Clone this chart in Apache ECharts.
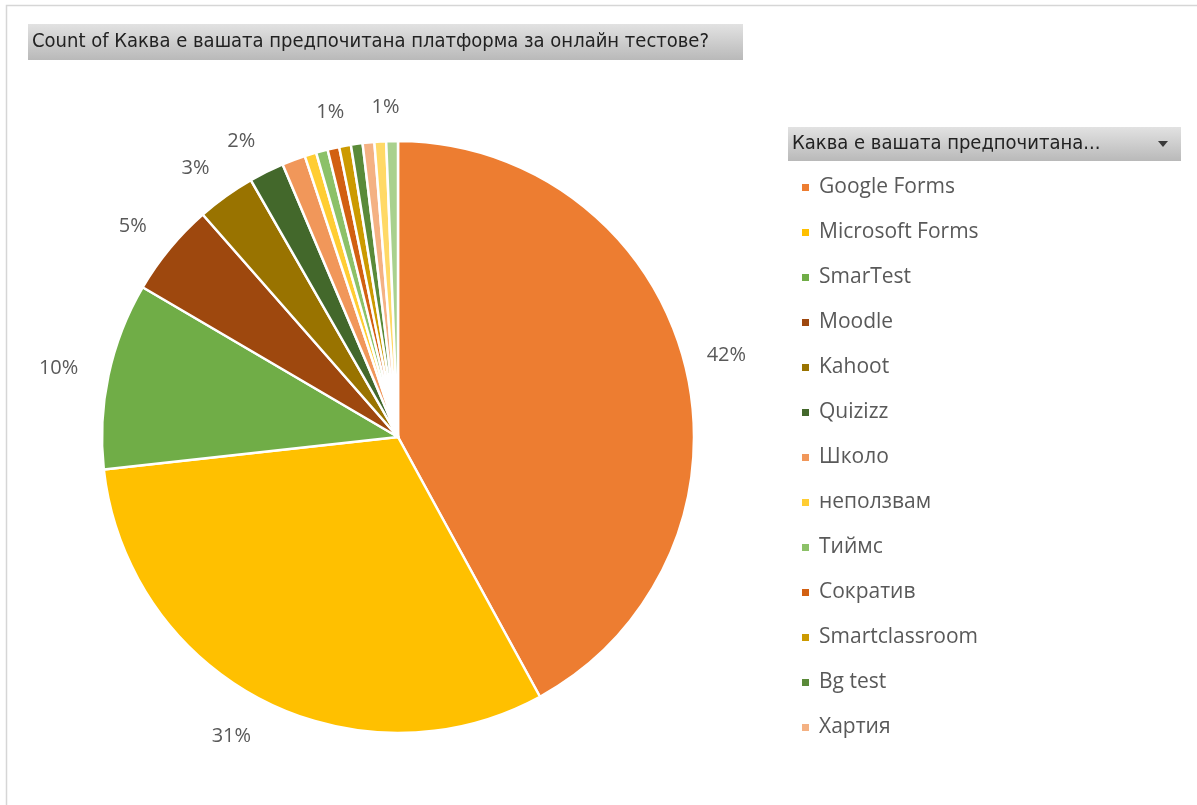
<!DOCTYPE html>
<html>
<head>
<meta charset="utf-8">
<script src="https://cdn.jsdelivr.net/npm/echarts@6/dist/echarts.min.js"></script>
<style>
html,body{margin:0;padding:0;background:#fff;}
#chart{width:1197px;height:805px;}
</style>
</head>
<body>
<div id="chart"></div>
<script>
// ---- data ----
const titleText = 'Count of Каква е вашата предпочитана платформа за онлайн тестове?';
const legendTitle = 'Каква е вашата предпочитана...';
const categories = ['Google Forms','Microsoft Forms','SmarTest','Moodle','Kahoot','Quizizz','Школо','неползвам','Тиймс','Сократив','Smartclassroom','Bg test','Хартия','',''];
const counts = [66,49,16,8,5,3,2,1,1,1,1,1,1,1,1];
const colors = ['#ED7D31','#FFC000','#70AD47','#9E480E','#997300','#43682B','#F1975A','#FFCD33','#8CC168','#D26012','#CC9A00','#5A8A39','#F4B183','#FFD966','#A9D18E'];
const labelShown = [0,1,2,3,4,5,10,14];
const legendNames = categories.slice(0,13);

const chart = echarts.init(document.getElementById('chart'));
const grad = () => new echarts.graphic.LinearGradient(0,0,0,1,[{offset:0,color:'#e2e2e2'},{offset:1,color:'#b9b9b9'}]);
const titleFont = '"DejaVu Sans Condensed", "DejaVu Sans", sans-serif';
const bodyFont = '"Open Sans", "Noto Sans", sans-serif';
const LABEL_GAP = 27;

function placeLabel(params) {
  const data = chart.getModel().getSeriesByIndex(0).getData();
  const lay = data.getItemLayout(params.dataIndex);
  if (!lay) return {};
  const a = (lay.startAngle + lay.endAngle) / 2;
  const ux = Math.cos(a), uy = Math.sin(a);
  const w = params.labelRect.width, h = params.labelRect.height;
  const sx = Math.sign(ux) * Math.sqrt(Math.abs(ux));
  const sy = Math.sign(uy) * Math.sqrt(Math.abs(uy));
  return {
    x: lay.cx + ux * (lay.r + LABEL_GAP) + sx * w / 2 - 4,
    y: lay.cy + uy * (lay.r + LABEL_GAP) + sy * h / 2 + 3,
    align: 'center', verticalAlign: 'middle'
  };
}

const option = {
  animation: false,
  backgroundColor: '#fff',
  title: [
    {text: titleText, left: 32, top: 31, padding: 0,
     textStyle: {fontFamily: titleFont, fontSize: 20, fontWeight: 'normal', color: '#222', lineHeight: 22}},
    {text: legendTitle, left: 792, top: 133, padding: 0,
     textStyle: {fontFamily: titleFont, fontSize: 20, fontWeight: 'normal', color: '#222', lineHeight: 22}}
  ],
  graphic: [
    {type: 'rect', z: -10, shape: {x: 6.5, y: 5.5, width: 1200, height: 810}, style: {fill: '#fff', stroke: '#d6d6d6', lineWidth: 1.5}},
    {type: 'rect', z: -5, shape: {x: 28, y: 24, width: 715, height: 36}, style: {fill: grad()}},
    {type: 'rect', z: -5, shape: {x: 788, y: 127, width: 393, height: 34}, style: {fill: grad()}},
    {type: 'polygon', z: 5, shape: {points: [[1158,141],[1168,141],[1163,147]]}, style: {fill: '#3a3a3a'}}
  ],
  legend: {
    orient: 'vertical', left: 800, top: 177, itemGap: 24, padding: 0,
    itemWidth: 9, itemHeight: 9, icon: 'rect',
    data: legendNames,
    textStyle: {fontFamily: bodyFont, fontSize: 21, color: '#595959', lineHeight: 20, padding: [0,0,0,4]}
  },
  series: [{
    type: 'pie',
    center: [398, 437],
    radius: 296,
    startAngle: 90,
    clockwise: true,
    avoidLabelOverlap: false,
    itemStyle: {borderColor: '#fff', borderWidth: 2.5},
    label: {
      position: 'outside', fontFamily: bodyFont, fontSize: 20, color: '#595959', lineHeight: 18,
      formatter: p => Math.round(p.percent) + '%'
    },
    labelLine: {show: false, length: 20, length2: 0},
    labelLayout: placeLabel,
    emphasis: {disabled: true},
    data: counts.map((v, i) => ({
      value: v, name: categories[i],
      itemStyle: {color: colors[i]},
      label: {show: labelShown.includes(i)}
    }))
  }]
};
chart.setOption(option);
</script>
</body>
</html>
